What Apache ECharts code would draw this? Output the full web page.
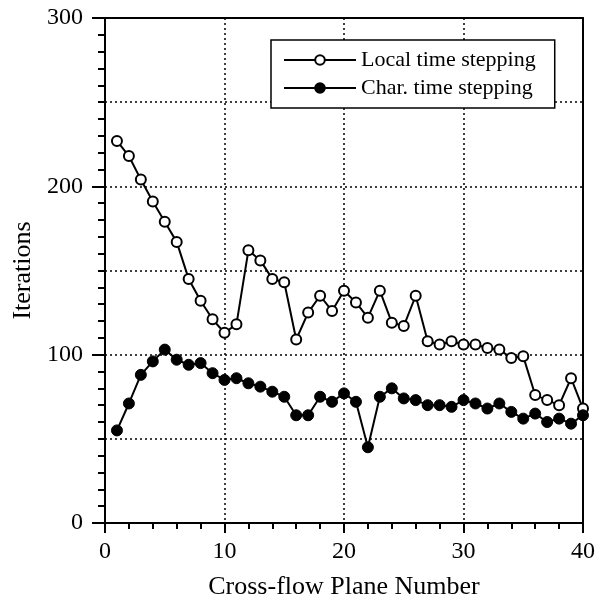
<!DOCTYPE html>
<html>
<head>
<meta charset="utf-8">
<script src="https://cdn.jsdelivr.net/npm/echarts@6/dist/echarts.min.js"></script>
<style>
html,body{margin:0;padding:0;background:#fff;}
#chart{width:598px;height:605px;}
</style>
</head>
<body>
<div id="chart"></div>
<script>
const planes = [1,2,3,4,5,6,7,8,9,10,11,12,13,14,15,16,17,18,19,20,21,22,23,24,25,26,27,28,29,30,31,32,33,34,35,36,37,38,39,40];
const localIter = [227,218,204,191,179,167,145,132,121,113,118,162,156,145,143,109,125,135,126,138,131,122,138,119,117,135,108,106,108,106,106,104,103,98,99,76,73,70,86,68];
const charIter = [55,71,88,96,103,97,94,95,89,85,86,83,81,78,75,64,64,75,72,77,72,45,75,80,74,73,70,70,69,73,71,68,71,66,62,65,60,62,59,64];
const xTicks = [0,10,20,30,40];
const yTicks = [0,100,200,300];
const seriesNames = ['Local time stepping','Char. time stepping'];

const FONT = 'Liberation Serif';
const chart = echarts.init(document.getElementById('chart'), null, {renderer:'canvas'});
const pair = (ys) => planes.map((x,i) => [x, ys[i]]);

chart.setOption({
  animation:false,
  backgroundColor:'#fff',
  textStyle:{fontFamily:FONT,color:'#000'},
  grid:{left:105,right:15,top:18,bottom:82,containLabel:false},
  legend:{
    left:271, top:40, orient:'vertical',
    data:seriesNames,
    itemWidth:72, itemHeight:12, itemGap:6,
    padding:[9,19,9,12],
    borderColor:'#000', borderWidth:1.5, backgroundColor:'#fff',
    textStyle:{fontFamily:FONT,fontSize:22,color:'#000'}
  },
  xAxis:[{
    type:'value', position:'bottom', min:xTicks[0], max:xTicks[xTicks.length-1], interval:10,
    name:'Cross-flow Plane Number', nameLocation:'middle', nameGap:51,
    nameTextStyle:{fontFamily:FONT,fontSize:26,color:'#000'},
    axisLine:{show:true,onZero:false,lineStyle:{color:'#000',width:2}},
    axisTick:{show:true,length:10,lineStyle:{color:'#000',width:2}},
    minorTick:{show:true,splitNumber:5,length:6,lineStyle:{color:'#000',width:2}},
    axisLabel:{fontFamily:FONT,fontSize:24,color:'#000',margin:17},
    splitLine:{show:true,lineStyle:{color:'#000',type:[2,3],width:1.5}}
  },{
    type:'value', position:'top', min:0, max:40,
    axisLine:{show:true,onZero:false,lineStyle:{color:'#000',width:2}},
    axisTick:{show:false}, axisLabel:{show:false}, splitLine:{show:false}
  }],
  yAxis:[{
    type:'value', position:'left', min:yTicks[0], max:yTicks[yTicks.length-1], interval:100,
    name:'Iterations', nameLocation:'middle', nameGap:60, nameRotate:90,
    nameTextStyle:{fontFamily:FONT,fontSize:26,color:'#000'},
    axisLine:{show:true,onZero:false,lineStyle:{color:'#000',width:2}},
    axisTick:{show:true,length:13,lineStyle:{color:'#000',width:2}},
    minorTick:{show:true,splitNumber:10,length:7,lineStyle:{color:'#000',width:2}},
    axisLabel:{fontFamily:FONT,fontSize:24,color:'#000',margin:22},
    splitLine:{show:false}
  },{
    type:'value', position:'left', min:0, max:300, interval:50,
    axisLine:{show:false}, axisTick:{show:false}, axisLabel:{show:false},
    splitLine:{show:true,lineStyle:{color:'#000',type:[2,3],width:1.5}}
  },{
    type:'value', position:'right', min:0, max:300, interval:100,
    axisLine:{show:true,onZero:false,lineStyle:{color:'#000',width:2}},
    axisTick:{show:false}, axisLabel:{show:false}, splitLine:{show:false}
  }],
  series:[{
    name:seriesNames[0], type:'line', xAxisIndex:0, yAxisIndex:0,
    data:pair(localIter),
    symbol:'circle', symbolSize:10,
    lineStyle:{color:'#000',width:2},
    itemStyle:{color:'#fff',borderColor:'#000',borderWidth:2},
    z:3
  },{
    name:seriesNames[1], type:'line', xAxisIndex:0, yAxisIndex:0,
    data:pair(charIter),
    symbol:'circle', symbolSize:11,
    lineStyle:{color:'#000',width:2},
    itemStyle:{color:'#000',borderColor:'#000',borderWidth:1},
    z:3
  }]
});
</script>
</body>
</html>
